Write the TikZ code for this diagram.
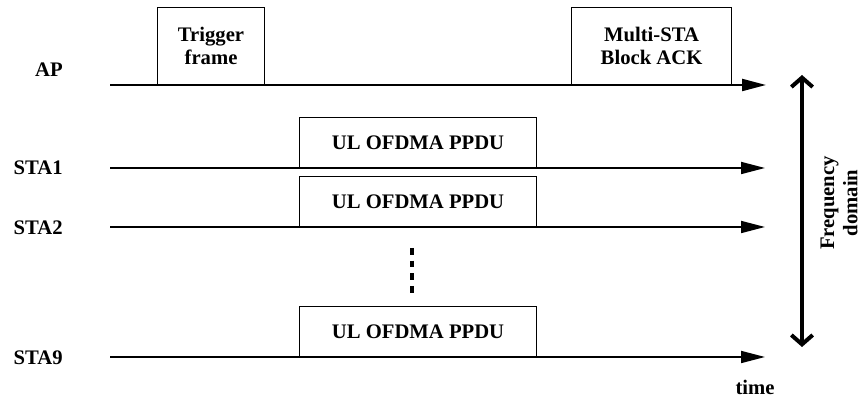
\documentclass[tikz,border=0pt]{standalone}
\usepackage{fontspec}
\setmainfont{Liberation Serif}
\usetikzlibrary{arrows.meta,positioning}
\tikzset{
  lbl/.style={font=\bfseries\fontsize{15.5}{17.5}\selectfont,inner sep=0pt},
  framebox/.style={draw,line width=0.8pt,inner sep=0pt,anchor=south west,align=center,lbl},
  ulbox/.style={framebox,minimum width=177.75pt,minimum height=37.5pt},
  timeline/.style={line width=1.3pt,-{Triangle[length=18pt,width=9pt]}},
}
\begin{document}
\begin{tikzpicture}[x=0.75pt,y=-0.75pt]
		\useasboundingbox (0,0) rectangle (861,398);
		% AP row with the trigger frame and the block ack
		\coordinate (apL) at (110,85);
		\coordinate (apR) at (766,85);
		\draw [timeline,line width=1.6pt] (apL) -- (apR);
		\node [lbl,anchor=east] (ap) at (63,70) {AP};
		\node [framebox,minimum width=80.25pt,minimum height=57.75pt] (trig) at (157,85) {Trigger\\frame};
		\node [framebox,minimum width=120pt,minimum height=57.75pt] (ack) at (571,85) {Multi-STA\\Block ACK};
		% STA rows, each sends its UL OFDMA PPDU
		\coordinate (s1L) at (110,168);
		\coordinate (s1R) at (765,168);
		\draw [timeline] (s1L) -- (s1R);
		\node [lbl,anchor=east] (sta1) at (63,168) {STA1};
		\node [ulbox] (ppdu1) at (299,168) {UL OFDMA PPDU};
		\coordinate (s2L) at (110,227);
		\coordinate (s2R) at (765,227);
		\draw [timeline] (s2L) -- (s2R);
		\node [lbl,anchor=east] (sta2) at (63,228) {STA2};
		\node [ulbox] (ppdu2) at (299,227) {UL OFDMA PPDU};
		\coordinate (s9L) at (110,357);
		\coordinate (s9R) at (765,357);
		\draw [timeline] (s9L) -- (s9R);
		\node [lbl,anchor=east] (sta9) at (63,358) {STA9};
		\node [ulbox] (ppdu9) at (299,357) {UL OFDMA PPDU};
		\node [lbl] (time) at (755,387) {time};
		% vertical dots between STA2 and STA9
		\coordinate (dotT) at (412,248);
		\coordinate (dotB) at (412,293);
		\draw [line width=2.4pt,dash pattern=on 5pt off 4.5pt] (dotT) -- (dotB);
		% frequency domain double arrow
		\coordinate (fT) at (802,75);
		\coordinate (fB) at (802,347);
		\draw [line width=3pt,{Straight Barb[length=7pt,width=16pt]}-{Straight Barb[length=7pt,width=16pt]}] (fT) -- (fB);
		\node [lbl,rotate=90,align=center] (freq) at (839,203) {Frequency\\domain};
\end{tikzpicture}
\end{document}
